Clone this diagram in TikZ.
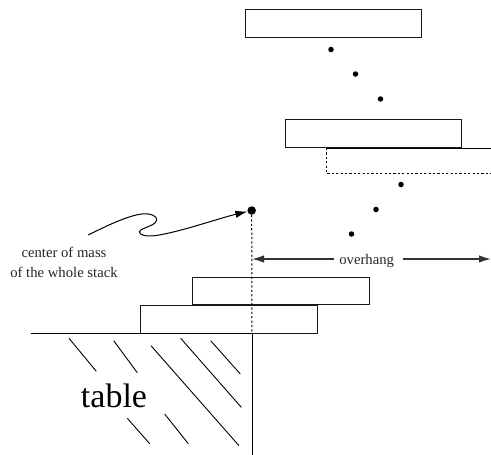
\documentclass[tikz,border=0pt]{standalone}
\usepackage{fontspec}
\setmainfont{Liberation Serif}
\usetikzlibrary{arrows.meta}
\tikzset{
  blockbox/.style={draw=black!90,line width=1pt,minimum width=176.6pt,minimum height=27.4pt,inner sep=0pt,outer sep=0pt},
  massdot/.style={circle,fill=black,inner sep=0pt,minimum size=5.5pt},
  bigdot/.style={circle,fill=black,inner sep=0pt,minimum size=8.5pt},
  hatchline/.style={line width=0.9pt},
  labeltext/.style={font=\fontsize{14.7}{19.5}\selectfont,inner sep=0pt,text=black!85},
  dimarrow/.style={line width=1.3pt,black!80,-{Latex[length=12pt,width=7.5pt]}},
  dashline/.style={line width=1pt,dash pattern=on 2.2pt off 2.2pt}
}
\begin{document}
\begin{tikzpicture}[x=1pt,y=-1pt]
\useasboundingbox (0,0) rectangle (491,455);
\node[blockbox] (b1) at (333.4,23.3) {};
\node[blockbox] (b2) at (373.3,133.6) {};
\node[blockbox] (b3) at (281.2,291.2) {};
\node[blockbox] (b4) at (229.1,319.4) {};
\coordinate (dl) at (326,148);
\coordinate (dr) at (491,148);
\coordinate (dbl) at (326,173);
\coordinate (dbr) at (491,173);
\draw[line width=1pt] (dl) -- (dr);
\draw[dashline] (dl) -- (dbl) -- (dbr);
\foreach \n/\x/\y in {d1/331/49.5,d2/355.5/74,d3/380.5/99,d4/401/184.5,d5/376/209.5,d6/351.5/234}
  \node[massdot] (\n) at (\x,\y) {};
\node[bigdot] (cm) at (251.7,210.5) {};
\coordinate (foot) at (252,333);
\draw[dashline] (cm) -- (foot);
\coordinate (tl) at (30.7,333.6);
\coordinate (tc) at (252.7,333.6);
\coordinate (tb) at (252.7,455);
\draw[line width=1.1pt] (tl) -- (tc);
\draw[line width=1pt] (tc) -- (tb);
\node[labeltext] (oh) at (366.7,260.5) {overhang};
\coordinate (ohl) at (252,259);
\coordinate (ohr) at (491,259);
\draw[dimarrow] (334,259) -- (ohl);
\draw[dimarrow] (402.7,259) -- (ohr);
\node[labeltext,align=center] (cap) at (64,262.5) {center of mass\\of the whole stack};
\coordinate (cs) at (88.3,235);
\draw[line width=1pt,-{Latex[length=12pt,width=7.5pt]}] (cs)
  .. controls (110,224) and (136,212) .. (148,214)
  .. controls (156,215) and (159,219) .. (155,223)
  .. controls (150,227) and (139,229) .. (139.3,232)
  .. controls (140,236) and (148,236.5) .. (156,235.5)
  .. controls (180,232) and (220,218) .. (cm);
\node[font=\fontsize{34}{36}\selectfont,inner sep=0pt,anchor=base] (tab) at (114,407) {table};
\foreach \a/\b/\c/\d in {69/338.3/96.3/371.3,113.7/340.7/137.3/372.7,151/345.7/239/445.7,180.7/338.3/241.3/407.3,210.7/340.7/240.3/374,127.3/418.3/149.7/443.7,164.7/414/188.3/443.7}
  \draw[hatchline] (\a,\b) -- (\c,\d);
\end{tikzpicture}
\end{document}
